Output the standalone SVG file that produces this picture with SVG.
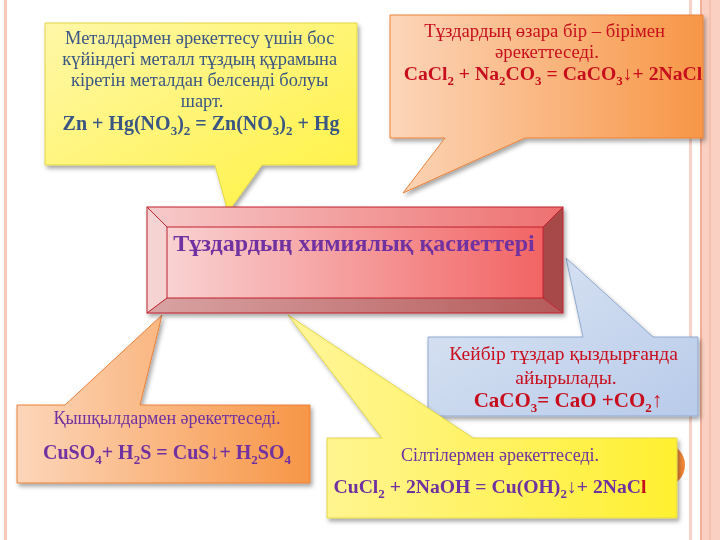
<svg xmlns="http://www.w3.org/2000/svg" width="720" height="540" viewBox="0 0 720 540">
<defs>
  <linearGradient id="gYel" x1="0" y1="0" x2="1" y2="1">
    <stop offset="0" stop-color="#FFF7A8"/>
    <stop offset="1" stop-color="#FFF23E"/>
  </linearGradient>
  <linearGradient id="gYel2" x1="0" y1="0" x2="1" y2="0">
    <stop offset="0" stop-color="#FFF59A"/>
    <stop offset="1" stop-color="#FFF030"/>
  </linearGradient>
  <linearGradient id="gOr" x1="0" y1="0" x2="1" y2="0">
    <stop offset="0" stop-color="#FCD6BA"/>
    <stop offset="1" stop-color="#F79646"/>
  </linearGradient>
  <linearGradient id="gBlue" x1="0" y1="0" x2="1" y2="1">
    <stop offset="0" stop-color="#DDE6F3"/>
    <stop offset="1" stop-color="#B8CBEA"/>
  </linearGradient>
  <linearGradient id="gFace" x1="0" y1="0" x2="1" y2="0">
    <stop offset="0" stop-color="#F9D2D2"/>
    <stop offset="1" stop-color="#F26464"/>
  </linearGradient>
  <linearGradient id="gTop" x1="0" y1="0" x2="1" y2="0">
    <stop offset="0" stop-color="#F7CACA"/>
    <stop offset="1" stop-color="#EE7070"/>
  </linearGradient>
  <linearGradient id="gBot" x1="0" y1="0" x2="1" y2="0">
    <stop offset="0" stop-color="#D9A3A3"/>
    <stop offset="1" stop-color="#B55A5A"/>
  </linearGradient>
  <radialGradient id="gCirc" cx="0.4" cy="0.4" r="0.7">
    <stop offset="0" stop-color="#F9A866"/>
    <stop offset="1" stop-color="#F27F2A"/>
  </radialGradient>
  <filter id="sh" x="-10%" y="-10%" width="125%" height="130%">
    <feDropShadow dx="2" dy="3" stdDeviation="2" flood-color="#000" flood-opacity="0.35"/>
  </filter>
</defs>
<style>
  .t { font-family: "Liberation Serif", "DejaVu Serif", serif; text-anchor: middle; }
  .b { font-weight: bold; }
  .yel { fill: url(#gYel); stroke: #E3D648; stroke-width: 1; }
  .yel2 { fill: url(#gYel2); stroke: #E3D648; stroke-width: 1; }
  .or { fill: url(#gOr); stroke: #E9813A; stroke-width: 1; }
  .bl { fill: url(#gBlue); stroke: #8FA9CF; stroke-width: 1; }
  .navy { fill: #3A5683; }
  .red { fill: #C8101E; }
  .pur { fill: #7030A0; }
</style>
<rect width="720" height="540" fill="#FFFFFF"/>
<g id="frame">
  <rect x="4" y="0" width="3" height="540" fill="#F5C8B8"/>
  <rect x="689" y="0" width="3" height="540" fill="#F8D2C6"/>
  <rect x="700" y="0" width="20" height="540" fill="#F9D0C1"/>
  <rect x="700" y="0" width="2" height="540" fill="#F0AE98"/>
  <rect x="709" y="0" width="2" height="540" fill="#F6C0AE"/>
  <circle cx="663" cy="465" r="22" fill="url(#gCirc)"/>
</g>
<g id="connectors"></g>
<g id="node-metals" filter="url(#sh)">
  <path class="yel" d="M45,23 H357 V165 H262 L228,212 L215,165 H45 Z"/>
  <text class="t navy" font-size="18.4">
    <tspan x="202" y="44">Металдармен әрекеттесу үшін бос</tspan>
    <tspan x="202" y="65">күйіндегі металл тұздың құрамына</tspan>
    <tspan x="202" y="86">кіретін металдан белсенді болуы</tspan>
    <tspan x="202" y="107">шарт.</tspan>
  </text>
  <text class="t b navy" font-size="20" x="201" y="130">Zn + Hg(NO<tspan font-size="13" dy="5">3</tspan><tspan dy="-5">)</tspan><tspan font-size="13" dy="5">2</tspan><tspan dy="-5"> = Zn(NO</tspan><tspan font-size="13" dy="5">3</tspan><tspan dy="-5">)</tspan><tspan font-size="13" dy="5">2</tspan><tspan dy="-5"> + Hg</tspan></text>
</g>
<g id="node-mutual" filter="url(#sh)">
  <path class="or" d="M390,15 H703 V138 H525 L403,193 L445,138 H390 Z"/>
  <text class="t red" font-size="18.7">
    <tspan x="547" y="37">Тұздардың өзара бір – бірімен</tspan>
    <tspan x="547" y="58">әрекеттеседі.</tspan>
  </text>
  <text class="t b red" font-size="19.7" x="553" y="80">CaCl<tspan font-size="13" dy="5">2</tspan><tspan dy="-5"> + Na</tspan><tspan font-size="13" dy="5">2</tspan><tspan dy="-5">CO</tspan><tspan font-size="13" dy="5">3</tspan><tspan dy="-5"> = CaCO</tspan><tspan font-size="13" dy="5">3</tspan><tspan dy="-5">↓+ 2NaCl</tspan></text>
</g>
<g id="node-heat" filter="url(#sh)">
  <path class="bl" d="M428,337 H583 L566,258 L653,337 H698 V416 H428 Z"/>
  <text class="t red" font-size="19.5">
    <tspan x="566" y="360">Кейбір тұздар қыздырғанда</tspan>
    <tspan x="566" y="384">айырылады.</tspan>
  </text>
  <text class="t b red" font-size="21" x="568" y="407">CaCO<tspan font-size="13" dy="5">3</tspan><tspan dy="-5">= CaO +CO</tspan><tspan font-size="13" dy="5">2</tspan><tspan dy="-5">↑</tspan></text>
</g>
<g id="node-acids" filter="url(#sh)">
  <path class="or" d="M17,405 H65 L162,315 L140,405 H310 V483 H17 Z"/>
  <text class="t pur" font-size="18" x="167" y="424">Қышқылдармен әрекеттеседі.</text>
  <text class="t b pur" font-size="20" x="167" y="459">CuSO<tspan font-size="13" dy="5">4</tspan><tspan dy="-5">+ H</tspan><tspan font-size="13" dy="5">2</tspan><tspan dy="-5">S = CuS↓+ H</tspan><tspan font-size="13" dy="5">2</tspan><tspan dy="-5">SO</tspan><tspan font-size="13" dy="5">4</tspan></text>
</g>
<g id="node-alkali" filter="url(#sh)">
  <path class="yel2" d="M327,438 H382 L288,315 L473,438 H677 V518 H327 Z"/>
  <text class="t pur" font-size="18" x="500" y="461">Сілтілермен әрекеттеседі.</text>
  <text class="t b pur" font-size="19.7" x="490" y="493">CuCl<tspan font-size="13" dy="5">2</tspan><tspan dy="-5"> + 2NaOH = Cu(OH)</tspan><tspan font-size="13" dy="5">2</tspan><tspan dy="-5">↓+ 2NaC</tspan><tspan class="red">l</tspan></text>
</g>
<g id="node-title" filter="url(#sh)">
  <rect x="167" y="227" width="376" height="71" fill="url(#gFace)"/>
  <polygon points="147,207 563,207 543,227 167,227" fill="url(#gTop)"/>
  <polygon points="147,207 167,227 167,298 147,313" fill="#F6D3D3"/>
  <polygon points="563,207 563,313 543,298 543,227" fill="#A84A4A"/>
  <polygon points="147,313 167,298 543,298 563,313" fill="url(#gBot)"/>
  <g fill="none" stroke="#C0202E" stroke-width="1">
    <rect x="147" y="207" width="416" height="106"/>
    <rect x="167" y="227" width="376" height="71"/>
    <path d="M147,207 L167,227 M563,207 L543,227 M563,313 L543,298 M147,313 L167,298"/>
  </g>
  <text class="t b pur" font-size="24" x="354" y="251">Тұздардың химиялық қасиеттері</text>
</g>
</svg>
